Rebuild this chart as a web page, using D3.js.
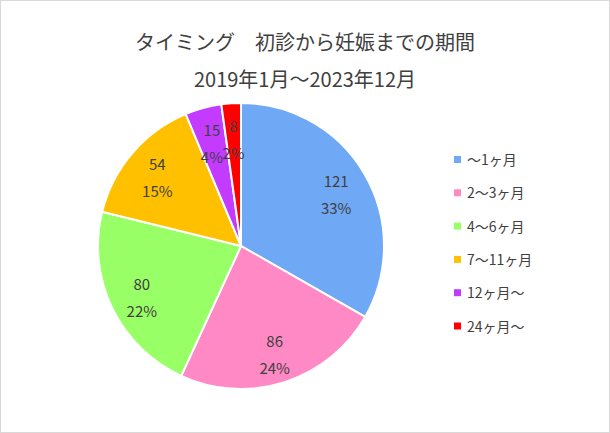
<!DOCTYPE html><html><head><meta charset="utf-8">
<script src="https://cdn.jsdelivr.net/npm/d3@7"></script>
<style>body{margin:0;background:#fff}text{font-family:"Noto Sans CJK JP","Noto Sans",sans-serif;fill:#404040}</style></head><body>
<svg width="610" height="433"></svg>
<script>
const categories=["～1ヶ月","2～3ヶ月","4～6ヶ月","7～11ヶ月","12ヶ月～","24ヶ月～"];
const values=[121,86,80,54,15,8];
const percents=["33%","24%","22%","15%","4%","2%"];
const colors=["#6FA8F5","#FF89C4","#99FF66","#FFC000","#C33BFF","#FF0000"];
const svg=d3.select("svg");
svg.append("rect").attr("x",0.5).attr("y",0.5).attr("width",609).attr("height",432).attr("fill","#fff").attr("stroke","#d9d9d9");
svg.append("text").attr("x",305).attr("y",50).attr("text-anchor","middle").attr("font-size",20).text("タイミング　初診から妊娠までの期間");
svg.append("text").attr("x",305).attr("y",87).attr("text-anchor","middle").attr("font-size",20).text("2019年1月～2023年12月");
const cx=241,cy=246,r=143;
const pie=d3.pie().sort(null)(values);
const arc=d3.arc().innerRadius(0).outerRadius(r);
const g=svg.append("g").attr("transform",`translate(${cx},${cy})`);
g.selectAll("path").data(pie).join("path").attr("d",arc).attr("fill",(d,i)=>colors[i]).attr("stroke","#fff").attr("stroke-width",2);
const la=d3.arc().innerRadius(r*0.77).outerRadius(r*0.77);
pie.forEach((d,i)=>{const [x,y]=la.centroid(d);
 const t=g.append("text").attr("text-anchor","middle").attr("font-size",15);
 t.append("tspan").attr("x",x).attr("y",y-4).text(values[i]);
 t.append("tspan").attr("x",x).attr("y",y+23).text(percents[i]);});
const lg=svg.append("g");
categories.forEach((c,i)=>{const y=160+i*33.3;
 lg.append("rect").attr("x",454).attr("y",y-4).attr("width",7).attr("height",7).attr("fill",colors[i]);
 lg.append("text").attr("x",467).attr("y",y+5).attr("font-size",14).text(c);});
</script></body></html>
